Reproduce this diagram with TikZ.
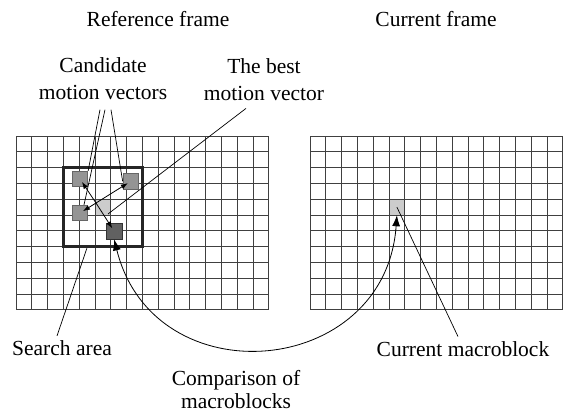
\documentclass[tikz,border=0pt]{standalone}
\usepackage{fontspec}
\setmainfont{Liberation Serif}
\usetikzlibrary{arrows.meta}

\begin{document}
\begin{tikzpicture}[x=1pt, y=-1pt,
    every node/.style={inner sep=0pt, font=\fontsize{21.5}{27}\selectfont},
    txt/.style={align=center, anchor=base},
    gridline/.style={draw=black!75, line width=1pt, line cap=rect},
    cellmb/.style={fill=black!20, minimum size=15.8pt},
    searchbox/.style={draw=black!85, line width=3.2pt, minimum size=79pt},
    cand/.style={draw=black!60, fill=black!42, line width=0.8pt, minimum size=15.5pt},
    bestmb/.style={draw=black!80, fill=black!62, line width=0.8pt, minimum size=15.5pt},
    mv/.style={-{Latex[length=7pt,width=5pt]}, line width=0.8pt, shorten >=3.5pt},
    leader/.style={line width=0.7pt},
    cmp/.style={{Latex[length=11pt,width=8pt]}-{Latex[length=11pt,width=8pt]}, line width=0.8pt}]

\useasboundingbox (0,0) rectangle (568,412);

\node[cellmb] (refmb) at (102.9,207.1) {};
\node[cellmb] (curmb) at (396.9,207.1) {};

\foreach \gx in {16,310} {
    \foreach \i in {0,...,16}
        \draw[gridline] (\gx+\i*15.8,136) -- (\gx+\i*15.8,309.8);
    \foreach \j in {0,...,11}
        \draw[gridline] (\gx,136+\j*15.8) -- (\gx+252.8,136+\j*15.8);
}

\node[searchbox] (search) at (102.9,207.1) {};

\node[cand] (tl) at (80,179) {};
\node[cand] (tr) at (130.8,181.3) {};
\node[cand] (ml) at (80,213) {};
\node[bestmb] (best) at (114.2,231.3) {};

\coordinate (org) at (96,203);
\draw[mv] (org) -- (tl.center);
\draw[mv] (org) -- (tr.center);
\draw[mv] (org) -- (ml.center);
\draw[mv] (org) -- (best.center);

\node[txt] (reflabel) at (158,26.7) {Reference frame};
\node[txt] (curlabel) at (436,26.7) {Current frame};
\node[txt] (candlabel) at (103,99.3) {Candidate\\motion vectors};
\node[txt] (bestlabel) at (264,100) {The best\\motion vector};
\node[txt] (searchlabel) at (62,355) {Search area};
\node[txt] (cmblabel) at (463,356.7) {Current macroblock};
\node[txt, font=\fontsize{21.5}{23}\selectfont] (cmplabel) at (236,408.5) {Comparison of\\macroblocks};

\draw[leader] ([shift={(-3,10)}]candlabel.south) -- (tl.north east);
\draw[leader] ([shift={(2,10)}]candlabel.south) -- ([xshift=4pt]ml.north);
\draw[leader] ([shift={(8,10)}]candlabel.south) -- (tr.west);
\coordinate (bv) at (108,214);
\draw[leader] ([shift={(-18,8)}]bestlabel.south) -- (bv);
\draw[leader] ([shift={(-5,-4)}]searchlabel.north) -- ([xshift=-16pt]search.south);
\draw[leader] (curmb.center) -- ([shift={(-5,-5)}]cmblabel.north);

\draw[cmp] (best.south) to[out=-76, in=-94, looseness=1.48] (curmb.south);

\end{tikzpicture}
\end{document}
